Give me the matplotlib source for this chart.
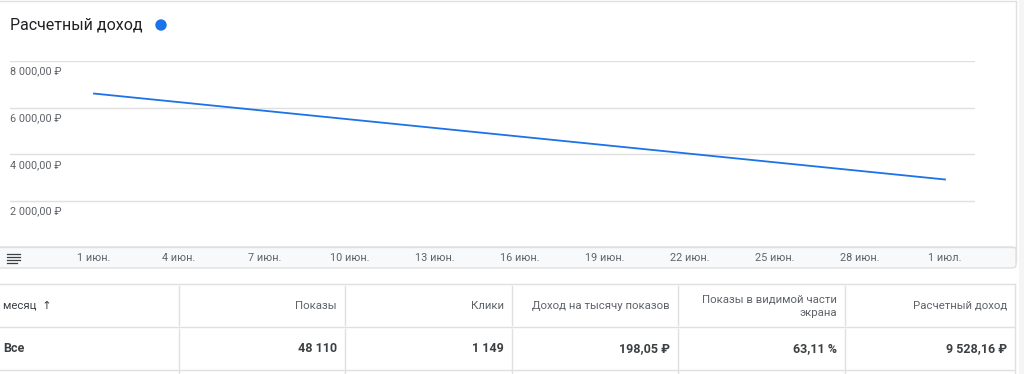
import pandas as pd
import matplotlib.pyplot as plt
import matplotlib.dates as mdates
from matplotlib.patches import FancyBboxPatch, Ellipse, Rectangle
from matplotlib.lines import Line2D

plt.rcParams['font.family'] = ['Roboto', 'DejaVu Sans']

# Данные графика
dates = pd.to_datetime(['2024-06-01', '2024-07-01'])
revenue = [6605, 2923]
y_ticks = [2000, 4000, 6000, 8000]
y_labels = ['2 000,00 ₽', '4 000,00 ₽', '6 000,00 ₽', '8 000,00 ₽']
x_ticks = pd.date_range('2024-06-01', '2024-07-01', freq='3D')
x_labels = ['1 июн.', '4 июн.', '7 июн.', '10 июн.', '13 июн.', '16 июн.',
            '19 июн.', '22 июн.', '25 июн.', '28 июн.', '1 июл.']

# Данные таблицы
columns = ['месяц  ↑', 'Показы', 'Клики', 'Доход на тысячу показов',
           'Показы в видимой части\nэкрана', 'Расчетный доход']
totals = ['Все', '48 110', '1 149', '198,05 ₽', '63,11 %', '9 528,16 ₽']

W, H = 1024, 374
GRID = '#e0e0e0'
TXT = '#5f6368'
DARK = '#3c4043'
BLUE = '#1a73e8'


def fx(x):
    return x / W


def fy(y):
    return 1 - y / H


fig = plt.figure(figsize=(W / 100, H / 100), dpi=100)
fig.patch.set_facecolor('white')

# Полоса справа
fig.add_artist(Rectangle((fx(1019), 0), fx(5), 1, facecolor='#f5f5f5',
                         edgecolor='none', zorder=-6))

# Карточка графика
fig.add_artist(Line2D([0, fx(1016)], [fy(1), fy(1)], color=GRID, lw=1, zorder=-5))
fig.add_artist(Line2D([fx(1016), fx(1016)], [fy(1), fy(262)], color=GRID, lw=1, zorder=-5))
fig.add_artist(FancyBboxPatch((fx(-10), fy(268)), fx(1026), fy(247) - fy(268),
                              boxstyle='round,pad=0,rounding_size=0.006',
                              facecolor='#f8f9fa', edgecolor=GRID, lw=1, zorder=-5))
fig.add_artist(Line2D([0, fx(1016)], [fy(247), fy(247)], color=GRID, lw=1, zorder=-4))

# Значок меню
for yy in [254, 257, 260, 263]:
    x_end = 17 if yy == 263 else 20
    fig.add_artist(Line2D([fx(7), fx(x_end)], [fy(yy), fy(yy)], color=DARK, lw=0.9))

# Заголовок
fig.text(fx(10), fy(25), 'Расчетный доход', fontsize=11.5, color='#202124',
         va='center', ha='left')
fig.add_artist(Ellipse((fx(161), fy(25)), fx(10), 10 / H, color=BLUE))

# Ось графика
ax = fig.add_axes([fx(10), fy(247.7), fx(975) - fx(10), fy(61) - fy(247.7)])
ax.set_zorder(2)
ax.plot(dates, revenue, color=BLUE, lw=1.3)
x0 = mdates.date2num(dates[0])
px_per_day = (945 - 94) / 30
ax.set_xlim(x0 - (94 - 10) / px_per_day, x0 + 30 + (975 - 945) / px_per_day)
ax.set_ylim(0, 8000)
ax.set_xticks(x_ticks)
ax.set_xticklabels(x_labels, fontsize=7.8, color=TXT)
ax.tick_params(axis='x', length=0, pad=4)
ax.set_yticks([])
for t in y_ticks:
    ax.axhline(t, color=GRID, lw=1, zorder=0)
for t, lab in zip(y_ticks, y_labels):
    ax.annotate(lab, xy=(0, t), xycoords=('axes fraction', 'data'),
                xytext=(0, -7.5), textcoords='offset points',
                fontsize=7.8, color=TXT, ha='left', va='center')
for s in ax.spines.values():
    s.set_visible(False)
ax.patch.set_alpha(0)

# Таблица
edges = [0, 179, 345, 512, 678, 845, 1015]
right = fx(1015)
fig.add_artist(Line2D([0, right], [fy(283.5), fy(283.5)], color=GRID, lw=1))
fig.add_artist(Line2D([0, right], [fy(327), fy(327)], color=GRID, lw=1))
fig.add_artist(Line2D([0, right], [fy(370), fy(370)], color=GRID, lw=1))
fig.add_artist(Line2D([right, right], [fy(283.5), 0], color=GRID, lw=1))
for e in edges[1:-1]:
    fig.add_artist(Line2D([fx(e), fx(e)], [fy(286), fy(325)], color=GRID, lw=1))
    fig.add_artist(Line2D([fx(e), fx(e)], [fy(329), fy(374)], color=GRID, lw=1))

for i, (col, val) in enumerate(zip(columns, totals)):
    if i == 0:
        fig.text(fx(3), fy(305), col, fontsize=8.2, color=DARK, ha='left', va='center')
        fig.text(fx(3), fy(349), val, fontsize=9, color=DARK, ha='left',
                 va='center', fontweight='bold')
    else:
        xr = fx(edges[i + 1] - 8)
        fig.text(xr, fy(306), col, fontsize=8.2, color=TXT, ha='right',
                 va='center', linespacing=1.45)
        fig.text(xr, fy(349), val, fontsize=9, color=DARK, ha='right',
                 va='center', fontweight='bold')

plt.savefig('out.png', dpi=100)
